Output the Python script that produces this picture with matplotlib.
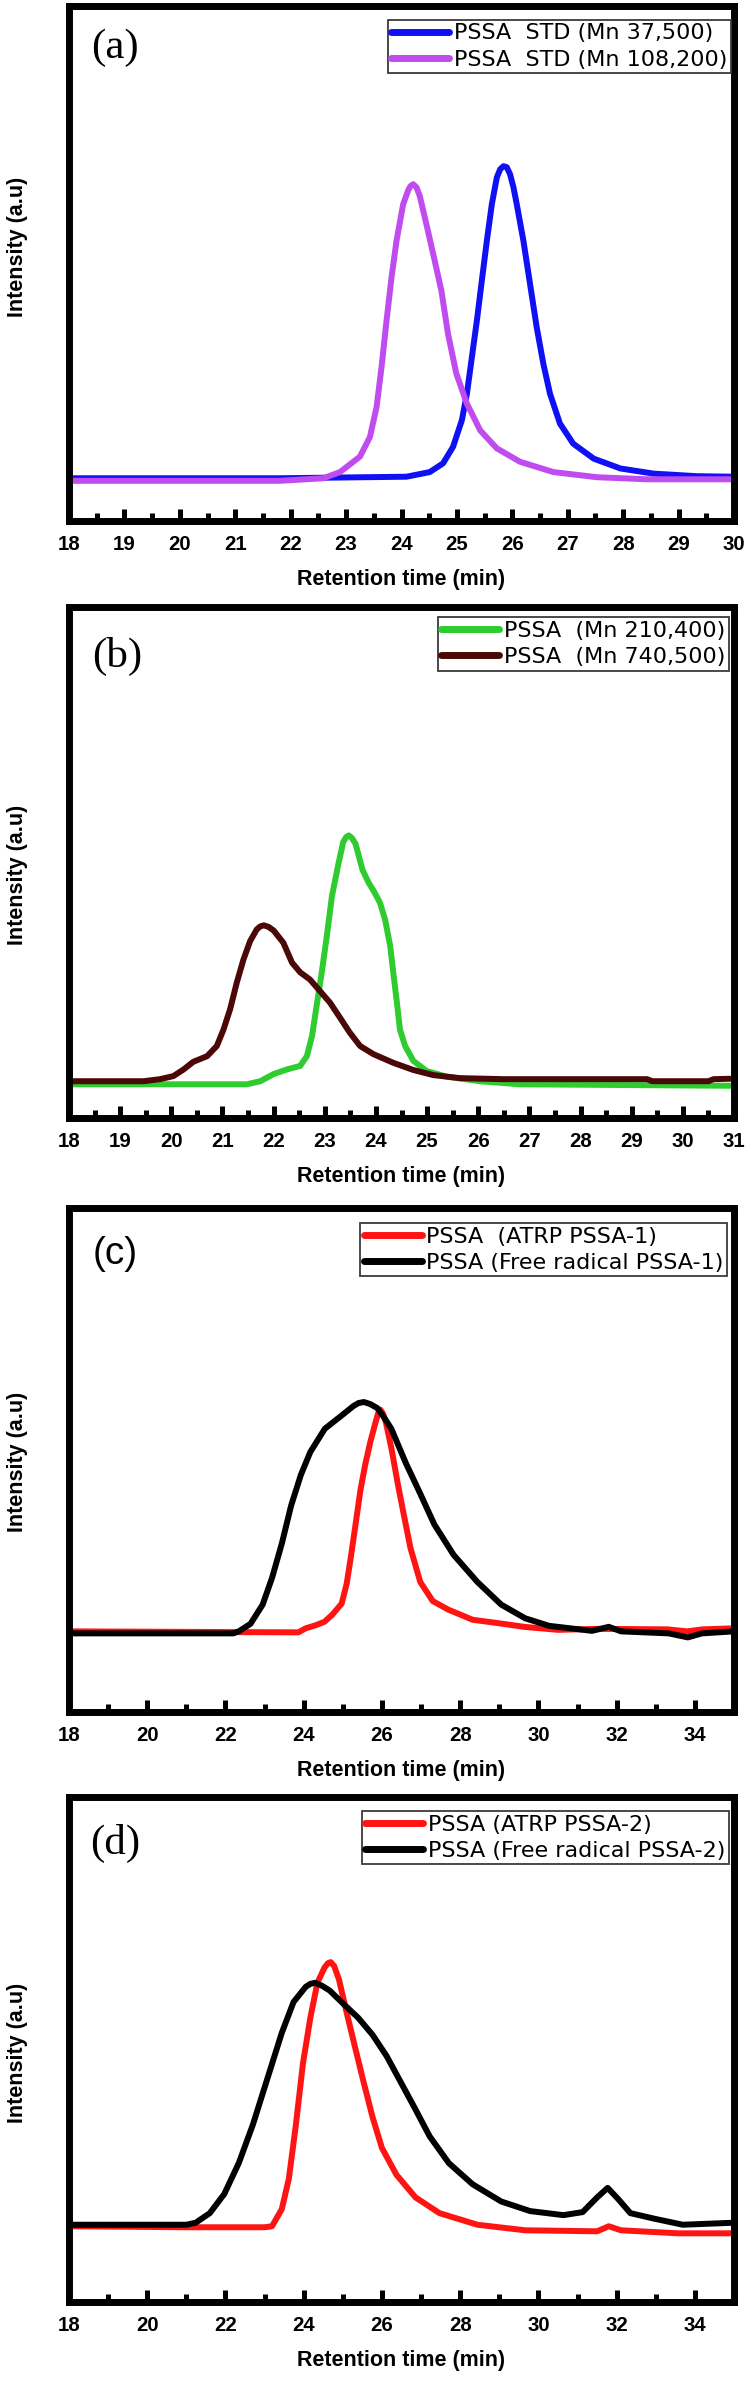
import matplotlib
matplotlib.use("Agg")
import matplotlib.pyplot as plt
from matplotlib.ticker import MultipleLocator

# ---------------- data ----------------
# Panel (a)
a_blue_t = [18.0, 21.8, 24.09, 24.51, 24.75, 24.93, 25.09, 25.18, 25.27, 25.36, 25.45, 25.54, 25.63, 25.72,
            25.78, 25.84, 25.90, 25.96, 26.02, 26.08, 26.20, 26.32, 26.44, 26.56, 26.68, 26.86, 27.10, 27.47,
            27.95, 28.55, 29.33, 30.0]
a_blue_i = [8.3, 8.3, 8.6, 9.5, 11.2, 14.4, 19.6, 24.7, 31.8, 38.9, 46.7, 54.4, 61.5, 66.7,
            68.3, 68.9, 68.7, 67.3, 64.8, 61.5, 54.4, 46.0, 37.6, 30.5, 24.7, 18.9, 15.0, 12.1,
            10.2, 9.2, 8.7, 8.6]
a_pink_t = [18.0, 21.8, 22.59, 22.89, 23.25, 23.43, 23.55, 23.64, 23.73, 23.82, 23.91, 24.03, 24.12, 24.16,
            24.21, 24.27, 24.33, 24.45, 24.60, 24.72, 24.84, 24.99, 25.18, 25.42, 25.72, 26.14, 26.74, 27.53,
            28.43, 30.0]
a_pink_i = [7.8, 7.8, 8.3, 9.5, 12.5, 16.3, 22.1, 29.9, 38.9, 47.3, 54.4, 61.5, 64.2, 65.0,
            65.4, 64.8, 63.1, 57.6, 50.5, 44.7, 36.3, 28.6, 22.8, 17.6, 14.1, 11.5, 9.5, 8.5,
            8.1, 8.1]

# Panel (b)
b_green_t = [18.0, 21.48, 21.74, 22.0, 22.26, 22.52, 22.65, 22.75, 22.84, 22.94, 23.04, 23.14, 23.27, 23.36,
             23.42, 23.47, 23.53, 23.60, 23.74, 23.86, 23.97, 24.08, 24.18, 24.28, 24.34, 24.41, 24.47, 24.57,
             24.73, 24.99, 25.38, 26.03, 26.81, 31.0]
b_green_i = [6.6, 6.6, 7.2, 8.6, 9.5, 10.2, 12.1, 16.0, 21.9, 28.4, 35.6, 43.4, 49.9, 54.0,
             55.0, 55.3, 54.8, 53.7, 48.5, 46.0, 44.2, 42.1, 38.8, 33.6, 28.4, 22.6, 17.3, 14.1,
             11.2, 9.2, 8.1, 7.2, 6.6, 6.3]
b_brown_t = [18.0, 19.46, 19.78, 20.04, 20.24, 20.43, 20.70, 20.89, 21.02, 21.15, 21.28, 21.41, 21.54, 21.67,
             21.74, 21.81, 21.90, 22.0, 22.19, 22.36, 22.52, 22.71, 22.91, 23.10, 23.30, 23.49, 23.69, 23.95,
             24.34, 24.73, 25.12, 25.64, 26.5, 29.3, 29.4, 30.5, 30.6, 31.0]
b_brown_i = [7.2, 7.2, 7.6, 8.2, 9.5, 11.0, 12.1, 14.1, 17.3, 21.3, 26.5, 31.0, 34.6, 36.9,
             37.5, 37.7, 37.4, 36.7, 34.3, 30.4, 28.5, 27.1, 24.8, 22.6, 19.6, 16.7, 14.1, 12.5,
             10.8, 9.4, 8.4, 7.8, 7.6, 7.6, 7.2, 7.2, 7.6, 7.7]

# Panel (c)
c_red_t = [18.0, 23.86, 24.05, 24.30, 24.53, 24.73, 24.97, 25.10, 25.21, 25.34, 25.45, 25.57, 25.70, 25.82,
           25.90, 25.96, 26.02, 26.10, 26.25, 26.40, 26.55, 26.73, 26.98, 27.30, 27.70, 28.32, 29.0, 29.63,
           30.5, 31.5, 33.3, 33.8, 34.2, 35.0]
c_red_i = [16.0, 15.8, 16.6, 17.2, 17.9, 19.3, 21.5, 25.5, 31.0, 38.0, 44.0, 49.0, 53.5, 57.0,
           59.2, 60.0, 59.3, 57.5, 52.0, 45.5, 39.5, 32.5, 25.8, 22.0, 20.3, 18.3, 17.6, 16.9,
           16.3, 16.5, 16.4, 16.0, 16.4, 16.6]
c_black_t = [18.0, 22.2, 22.34, 22.64, 22.95, 23.19, 23.44, 23.68, 23.93, 24.17, 24.54, 24.90, 25.27, 25.40,
             25.54, 25.70, 25.88, 26.05, 26.24, 26.61, 26.98, 27.34, 27.83, 28.44, 29.05, 29.66, 30.27, 31.37,
             31.80, 32.11, 33.33, 33.82, 34.18, 35.0]
c_black_i = [15.6, 15.6, 16.0, 17.5, 21.3, 26.6, 33.4, 41.0, 47.1, 51.6, 56.2, 58.4, 60.7, 61.3,
             61.5, 61.1, 60.3, 58.5, 56.2, 49.4, 43.3, 37.2, 31.2, 25.8, 21.3, 18.6, 17.1, 16.1,
             16.9, 16.0, 15.6, 14.8, 15.6, 16.0]

# Panel (d)
d_red_t = [18.0, 21.0, 23.0, 23.19, 23.44, 23.62, 23.80, 23.98, 24.17, 24.35, 24.53, 24.62, 24.69, 24.78,
           24.90, 25.08, 25.27, 25.51, 25.76, 26.0, 26.37, 26.86, 27.47, 28.44, 29.66, 31.5, 31.80, 32.11,
           33.57, 35.0]
d_red_i = [15.0, 14.8, 14.8, 15.0, 18.4, 24.4, 35.1, 47.2, 56.3, 63.2, 66.2, 67.1, 67.3, 66.5,
           63.9, 57.9, 51.8, 44.2, 36.6, 30.5, 25.2, 20.7, 17.6, 15.3, 14.2, 14.0, 15.0, 14.2,
           13.6, 13.6]
d_black_t = [18.0, 21.0, 21.24, 21.60, 21.97, 22.34, 22.70, 23.07, 23.44, 23.74, 24.05, 24.17, 24.29, 24.45,
             24.66, 25.02, 25.39, 25.76, 26.12, 26.49, 26.86, 27.22, 27.71, 28.32, 29.05, 29.79, 30.64, 31.13,
             31.50, 31.77, 32.05, 32.35, 32.96, 33.69, 35.0]
d_black_i = [15.3, 15.3, 15.7, 17.6, 21.4, 27.5, 35.1, 44.2, 53.3, 59.4, 62.4, 63.0, 63.2, 62.7,
             61.7, 59.0, 56.3, 52.9, 48.7, 43.4, 38.1, 32.8, 27.5, 23.3, 19.9, 18.0, 17.2, 17.8,
             20.7, 22.6, 20.3, 17.6, 16.5, 15.3, 15.7]

panel_letters = ["(a)", "(b)", "(c)", "(d)"]
legend_labels = [
    ["PSSA  STD (Mn 37,500)", "PSSA  STD (Mn 108,200)"],
    ["PSSA  (Mn 210,400)", "PSSA  (Mn 740,500)"],
    ["PSSA  (ATRP PSSA-1)", "PSSA (Free radical PSSA-1)"],
    ["PSSA (ATRP PSSA-2)", "PSSA (Free radical PSSA-2)"],
]
x_label = "Retention time (min)"
y_label = "Intensity (a.u)"

# ---------------- style ----------------
sans = ["Liberation Sans", "DejaVu Sans"]
legend_font = ["DejaVu Sans"]
serif = ["Liberation Serif", "DejaVu Serif"]

W, H = 749, 2381
fig = plt.figure(figsize=(W / 100, H / 100), dpi=100)

# axes boxes in pixels: (left, top, right, bottom)
boxes = [(69, 6, 734, 521), (69, 607, 734, 1118), (69, 1208, 734, 1712), (69, 1797, 734, 2302)]
xlims = [(18, 30), (18, 31), (18, 35), (18, 35)]
majors = [1, 1, 2, 2]
minors = [0.5, 0.5, 1, 1]
series = [
    [(a_blue_t, a_blue_i, "#1010F5"), (a_pink_t, a_pink_i, "#C04CF0")],
    [(b_green_t, b_green_i, "#2ECC2E"), (b_brown_t, b_brown_i, "#4A0808")],
    [(c_red_t, c_red_i, "#FF1414"), (c_black_t, c_black_i, "#000000")],
    [(d_red_t, d_red_i, "#FF1414"), (d_black_t, d_black_i, "#000000")],
]
leg_anchor = [(0.9955, 0.973), (0.992, 0.980), (0.990, 0.970), (0.992, 0.972)]
ylab_y = [0.532, 0.476, 0.497, 0.494]
letter_pos = [(0.069, 0.918), (0.072, 0.903), (0.069, 0.909), (0.069, 0.907)]

for k in range(4):
    l, t, r, b = boxes[k]
    ax = fig.add_axes([l / W, 1 - b / H, (r - l) / W, (b - t) / H])
    handles = []
    for (xs, ys, col), lab in zip(series[k], legend_labels[k]):
        h, = ax.plot(xs, ys, color=col, lw=4.3, solid_capstyle="round", solid_joinstyle="round", label=lab)
        handles.append(h)
    ax.set_xlim(*xlims[k])
    ax.set_ylim(0, 100)
    for s in ax.spines.values():
        s.set_linewidth(5.0)
        s.set_color("black")
        s.set_capstyle("projecting")
    ax.xaxis.set_major_locator(MultipleLocator(majors[k]))
    ax.xaxis.set_minor_locator(MultipleLocator(minors[k]))
    ax.tick_params(axis="x", which="major", direction="in", length=9, width=3.6, pad=10,
                   top=False, bottom=True)
    ax.tick_params(axis="x", which="minor", direction="in", length=5.5, width=3.6, top=False, bottom=True)
    ax.tick_params(axis="y", which="both", left=False, right=False, labelleft=False)
    for lbl in ax.get_xticklabels():
        lbl.set_fontfamily(sans)
        lbl.set_fontweight("bold")
        lbl.set_fontsize(14.7)
    ax.set_xlabel(x_label, fontfamily=sans, fontsize=15.5, fontweight="bold", labelpad=11)
    ax.set_ylabel(y_label, fontfamily=sans, fontsize=15.5, fontweight="bold", va="center")
    ax.yaxis.set_label_coords(-0.078, ylab_y[k])
    lx, ly = letter_pos[k]
    fam = sans if k == 2 else serif
    ax.text(lx, ly, panel_letters[k], transform=ax.transAxes, ha="center", va="center",
            fontsize=31 if k != 2 else 28, fontfamily=fam)
    leg = ax.legend(handles=handles, loc="upper right", bbox_to_anchor=leg_anchor[k],
                    borderaxespad=0, fancybox=False, framealpha=1, edgecolor="#3a3a3a",
                    prop={"family": legend_font, "size": 16}, handlelength=2.6, handletextpad=0.22,
                    labelspacing=0.28, borderpad=0.16)
    leg.get_frame().set_linewidth(1.3)
    for ln in leg.get_lines():
        ln.set_linewidth(5.0)

fig.savefig("out.png", dpi=100)
